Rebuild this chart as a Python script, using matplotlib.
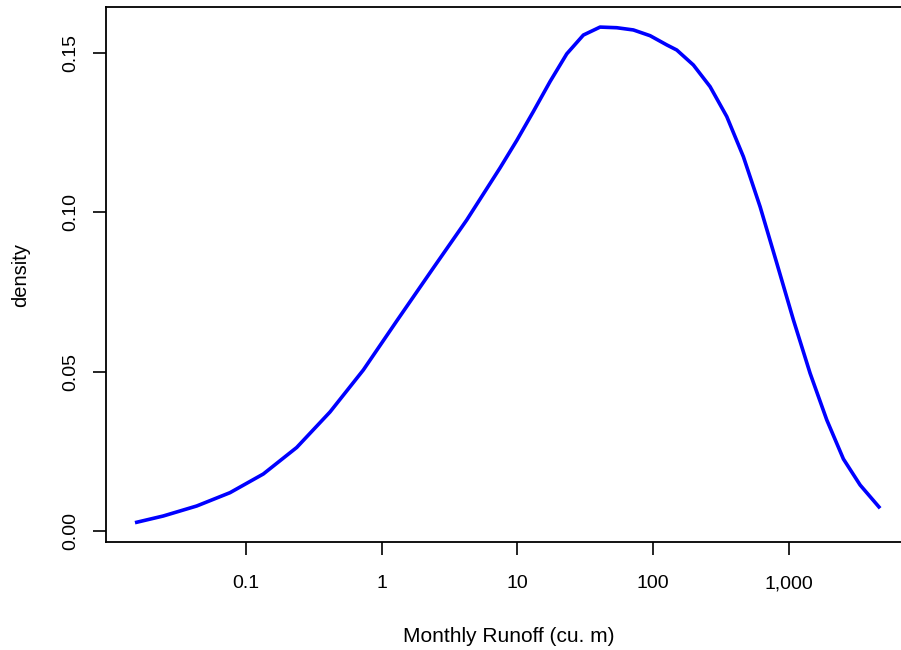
import matplotlib.pyplot as plt
from matplotlib.ticker import FixedLocator, FixedFormatter, NullLocator

# density curve
runoff = [0.0153, 0.02472, 0.04357, 0.07662, 0.1348, 0.2374, 0.4176, 0.7345,
          1.294, 1.489, 2.406, 4.241, 7.458, 9.899, 13.12, 17.41, 23.11, 30.62,
          40.64, 53.95, 71.49, 94.89, 126.0, 149.2, 197.7, 262.4, 348.3, 461.6,
          612.8, 813.5, 1078, 1430, 1898, 2516, 3339, 4686]
density = [0.00261, 0.00471, 0.00785, 0.01203, 0.01790, 0.02622, 0.03737, 0.05055,
           0.06594, 0.06971, 0.08258, 0.09765, 0.1140, 0.1226, 0.1317, 0.1411, 0.1498, 0.1557,
           0.1582, 0.1580, 0.1573, 0.1555, 0.1526, 0.1510, 0.1463, 0.1395, 0.1301, 0.1175,
           0.1018, 0.08406, 0.06625, 0.04952, 0.03485, 0.02260, 0.01444, 0.00713]

x_ticks = [0.1, 1, 10, 100, 1000]
x_tick_labels = ['0.1', '1', '10', '100', '1,000']
y_ticks = [0.00, 0.05, 0.10, 0.15]
y_tick_labels = ['0.00', '0.05', '0.10', '0.15']

plt.rcParams['font.family'] = ['Liberation Sans', 'DejaVu Sans']

fig = plt.figure(figsize=(9.01, 6.5), dpi=100)
ax = fig.add_axes([0.1182, 0.1654, 0.8918, 0.8238])

ax.plot(runoff, density, color='#0000ff', linewidth=2.6,
        solid_joinstyle='round', solid_capstyle='butt')

ax.set_xscale('log')
ax.set_xlim(10 ** -2.025, 10 ** 3.891)
ax.set_ylim(-0.00361, 0.1645)

ax.xaxis.set_major_locator(FixedLocator(x_ticks))
ax.xaxis.set_major_formatter(FixedFormatter(x_tick_labels))
ax.xaxis.set_minor_locator(NullLocator())
ax.set_yticks(y_ticks)
ax.set_yticklabels(y_tick_labels, rotation=90, va='center')

ax.tick_params(axis='both', direction='out', length=9.5, width=1.2,
               labelsize=14, colors='black')
ax.tick_params(axis='x', pad=14)
ax.tick_params(axis='y', pad=10)

for s in ax.spines.values():
    s.set_linewidth(1.3)

ax.set_xlabel('Monthly Runoff (cu. m)', fontsize=15, labelpad=25)
ax.set_ylabel('density', fontsize=14.5, labelpad=23)

fig.savefig('out.png', dpi=100)
